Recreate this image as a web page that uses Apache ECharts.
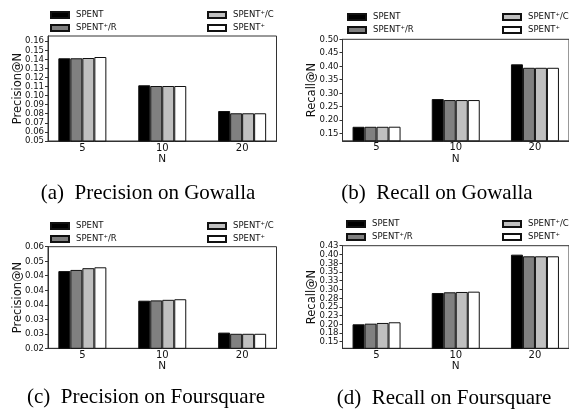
<!DOCTYPE html>
<html>
<head>
<meta charset="utf-8">
<script src="https://cdn.jsdelivr.net/npm/echarts@6/dist/echarts.min.js"></script>
<style>
  html, body { margin: 0; padding: 0; background: #fff; }
  #chart { width: 569px; height: 411px; }
</style>
</head>
<body>
<div id="chart"></div>
<script>
// categories (N) and method names
var categories = ['5', '10', '20'];
var methods = ['SPENT', 'SPENT\u207A/R', 'SPENT\u207A/C', 'SPENT\u207A'];
var colors = ['#000000', '#808080', '#c0c0c0', '#ffffff'];

// one row per method, one value per N
var precisionGowalla = [
  [0.1410, 0.1113, 0.0830],
  [0.1410, 0.1105, 0.0805],
  [0.1413, 0.1105, 0.0805],
  [0.1424, 0.1105, 0.0805]
];
var recallGowalla = [
  [0.1745, 0.2777, 0.4070],
  [0.1745, 0.2740, 0.3940],
  [0.1745, 0.2740, 0.3940],
  [0.1748, 0.2740, 0.3940]
];
var precisionFoursquare = [
  [0.0466, 0.0364, 0.0254],
  [0.0470, 0.0365, 0.0250],
  [0.0476, 0.0367, 0.0250],
  [0.0479, 0.0369, 0.0250]
];
var recallFoursquare = [
  [0.1998, 0.2895, 0.3993],
  [0.2016, 0.2915, 0.3946],
  [0.2036, 0.2924, 0.3946],
  [0.2056, 0.2933, 0.3946]
];

// y tick values and the labels printed at them
var ticksA = [0.05, 0.06, 0.07, 0.08, 0.09, 0.10, 0.11, 0.12, 0.13, 0.14, 0.15, 0.16];
var labelsA = ['0.05', '0.06', '0.07', '0.08', '0.09', '0.10', '0.11', '0.12', '0.13', '0.14', '0.15', '0.16'];
var ticksB = [0.15, 0.20, 0.25, 0.30, 0.35, 0.40, 0.45, 0.50];
var labelsB = ['0.15', '0.20', '0.25', '0.30', '0.35', '0.40', '0.45', '0.50'];
var ticksC = [0.020, 0.025, 0.030, 0.035, 0.040, 0.045, 0.050, 0.055];
var labelsC = ['0.02', '0.03', '0.03', '0.04', '0.04', '0.04', '0.05', '0.06'];
var ticksD = [0.150, 0.175, 0.200, 0.225, 0.250, 0.275, 0.300, 0.325, 0.350, 0.375, 0.400, 0.425];
var labelsD = ['0.15', '0.18', '0.20', '0.23', '0.25', '0.28', '0.30', '0.33', '0.35', '0.38', '0.40', '0.43'];

var captions = ['(a)  Precision on Gowalla', '(b)  Recall on Gowalla',
                '(c)  Precision on Foursquare', '(d)  Recall on Foursquare'];

var sans = 'DejaVu Sans';
var sansNarrow = '"DejaVu Sans Condensed", "DejaVu Sans"';
var serif = 'Liberation Serif';

var panels = [
  { data: precisionGowalla, ticks: ticksA, labels: labelsA, min: 0.05, max: 0.1655, name: 'Precision@N',
    grid: { left: 48, top: 36, width: 228.5, height: 105 }, legTop: 10, legL: 50, legR: 207, cap: [148, 182.5] },
  { data: recallGowalla, ticks: ticksB, labels: labelsB, min: 0.1224, max: 0.50, name: 'Recall@N',
    grid: { left: 342.5, top: 39.3, width: 228.5, height: 101.5 }, legTop: 12, legL: 347, legR: 502, cap: [437, 183] },
  { data: precisionFoursquare, ticks: ticksC, labels: labelsC, min: 0.02, max: 0.055, name: 'Precision@N',
    grid: { left: 48, top: 246.7, width: 228.5, height: 101.6 }, legTop: 221, legL: 50, legR: 207, cap: [146, 387] },
  { data: recallFoursquare, ticks: ticksD, labels: labelsD, min: 0.131, max: 0.425, name: 'Recall@N',
    grid: { left: 342.5, top: 245.7, width: 228.5, height: 102.6 }, legTop: 219, legL: 346, legR: 502, cap: [444, 388] }
];

var grids = [], xAxes = [], yAxes = [], series = [], legends = [], titles = [];

function labelFor(p) {
  return function (v) {
    for (var i = 0; i < p.ticks.length; i++) {
      if (Math.abs(p.ticks[i] - v) < 1e-7) return p.labels[i];
    }
    return '';
  };
}

panels.forEach(function (p, k) {
  grids.push(Object.assign({ show: true, borderColor: '#333', borderWidth: 1, backgroundColor: 'transparent' }, p.grid));
  xAxes.push({
    type: 'value', gridIndex: k, min: -0.43, max: 2.43,
    name: 'N', nameLocation: 'middle', nameGap: 12.5, nameMoveOverlap: false,
    nameTextStyle: { fontFamily: sans, fontSize: 10.5, color: '#111' },
    axisLine: { onZero: false, lineStyle: { color: '#333', width: 1 } },
    axisTick: { show: false },
    splitLine: { show: false },
    axisLabel: {
      customValues: [0, 1, 2], margin: 2,
      fontFamily: sans, fontSize: 10, color: '#111',
      formatter: function (v) { return categories[Math.round(v)]; }
    }
  });
  // labels are split over two axes (even / odd ticks) so ECharts does not drop the crowded end labels
  var even = p.ticks.filter(function (t, i) { return i % 2 === 0; });
  var odd = p.ticks.filter(function (t, i) { return i % 2 === 1; });
  yAxes.push({
    type: 'value', gridIndex: k, min: p.min, max: p.max, position: 'left',
    name: p.name, nameLocation: 'middle', nameGap: 24, nameMoveOverlap: false,
    nameTextStyle: { fontFamily: sans, fontSize: 11.5, color: '#111' },
    axisLine: { show: true, onZero: false, lineStyle: { color: '#333', width: 1 } },
    axisTick: { show: true, length: 3, customValues: p.ticks, lineStyle: { color: '#333' } },
    splitLine: { show: false },
    axisLabel: {
      customValues: even, margin: 4, showMinLabel: true, showMaxLabel: true,
      fontFamily: sansNarrow, fontSize: 9.5, color: '#111', formatter: labelFor(p)
    }
  });
  yAxes.push({
    type: 'value', gridIndex: k, min: p.min, max: p.max, position: 'left', offset: 0,
    axisLine: { show: false, onZero: false },
    axisTick: { show: false },
    splitLine: { show: false },
    axisLabel: {
      customValues: odd, margin: 4, showMinLabel: true, showMaxLabel: true,
      fontFamily: sansNarrow, fontSize: 9.5, color: '#111', formatter: labelFor(p)
    }
  });
  p.data.forEach(function (row, m) {
    series.push({
      type: 'bar', name: methods[m], xAxisIndex: k, yAxisIndex: 2 * k,
      barWidth: 12, barGap: '0%',
      itemStyle: { color: colors[m], borderColor: '#111', borderWidth: 1 },
      data: row.map(function (v, i) { return [i, v]; })
    });
  });
  [[0, 1, p.legL], [2, 3, p.legR]].forEach(function (c) {
    legends.push({
      orient: 'vertical', left: c[2], top: p.legTop, padding: 0,
      itemWidth: 18, itemHeight: 6, itemGap: 3, icon: 'rect',
      selectedMode: false,
      textStyle: { fontFamily: sans, fontSize: 8.5, color: '#111', padding: [0, 0, 0, 2], lineHeight: 10 },
      data: [methods[c[0]], methods[c[1]]]
    });
  });
  titles.push({
    text: captions[k], left: p.cap[0], top: p.cap[1], textAlign: 'center', padding: 0,
    textStyle: { fontFamily: serif, fontSize: 21, fontWeight: 'normal', color: '#000' }
  });
});

var chart = echarts.init(document.getElementById('chart'), null, { renderer: 'canvas' });
chart.setOption({
  animation: false,
  backgroundColor: '#fff',
  title: titles,
  legend: legends,
  grid: grids,
  xAxis: xAxes,
  yAxis: yAxes,
  series: series
});
</script>
</body>
</html>
